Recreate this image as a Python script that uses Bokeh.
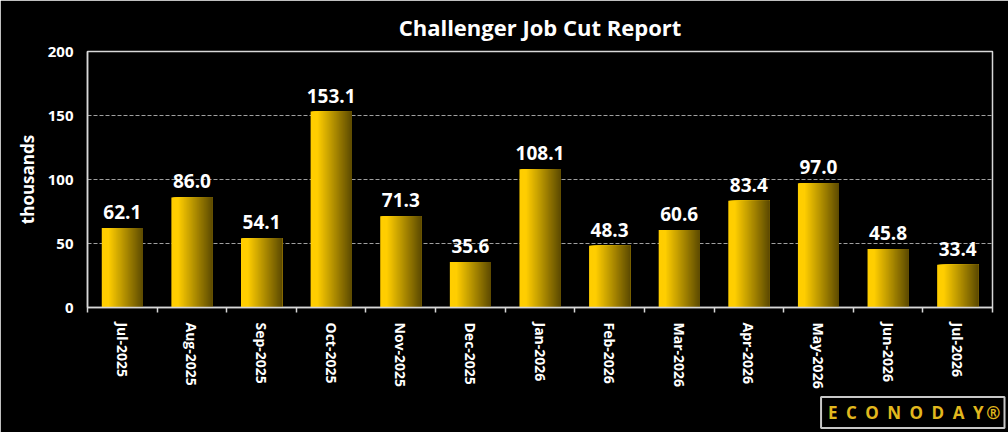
from bokeh.plotting import figure
from bokeh.models import Range1d, FixedTicker, Title, ColumnDataSource
from bokeh.core.properties import value
from bokeh.embed import file_html
from bokeh.resources import INLINE

months = ["Jul-2025", "Aug-2025", "Sep-2025", "Oct-2025", "Nov-2025", "Dec-2025",
          "Jan-2026", "Feb-2026", "Mar-2026", "Apr-2026", "May-2026", "Jun-2026", "Jul-2026"]
job_cuts = [62.1, 86.0, 54.1, 153.1, 71.3, 35.6, 108.1, 48.3, 60.6, 83.4, 97.0, 45.8, 33.4]
y_ticks = [0, 50, 100, 150, 200]

FONT = "Open Sans"
W, H = 1008, 432
p = figure(width=W, height=H, output_backend="svg", toolbar_location=None,
           x_range=Range1d(-0.5, len(months) - 0.5), y_range=Range1d(0, 200),
           min_border_left=87, min_border_right=16, min_border_top=50, min_border_bottom=125,
           background_fill_color="black", border_fill_color="black")

p.title.text = "Challenger Job Cut Report"
p.title.align = "center"
p.title.text_color = "white"
p.title.text_font = FONT
p.title.text_font_size = "22px"
p.title.text_font_style = "bold"
p.title.standoff = 19

p.outline_line_color = "#d8d8d8"
p.outline_line_width = 1.5

# gradient bars via overlapping quads (each covers from its start to bar's right edge)
bar_w = 0.59
N = 40
bright = (255, 206, 0)
dark = (90, 72, 0)
ls, rs, tops, cols = [], [], [], []
for i, v in enumerate(job_cuts):
    for k in range(N):
        t = k / N
        u = max(0.0, (t - 0.15) / 0.85)
        c = tuple(int(round(bright[j] + (dark[j] - bright[j]) * u)) for j in range(3))
        ls.append(i - bar_w / 2 + t * bar_w)
        rs.append(i + bar_w / 2)
        tops.append(v)
        cols.append("#%02x%02x%02x" % c)
src = ColumnDataSource(dict(left=ls, right=rs, top=tops, color=cols))
p.quad(left="left", right="right", top="top", bottom=0, fill_color="color",
       line_color=None, source=src)

lab = ColumnDataSource(dict(x=list(range(len(months))), y=job_cuts,
                            t=["%.1f" % v for v in job_cuts]))
p.text(x="x", y="y", text="t", source=lab, text_align="center", text_baseline="alphabetic",
       y_offset=-16, text_color="white", text_font=value(FONT), text_font_style="bold",
       text_font_size="19px")

# axes
p.xgrid.visible = False
p.ygrid.ticker = FixedTicker(ticks=[50, 100, 150])
p.ygrid.grid_line_color = "#a0a0a0"
p.ygrid.grid_line_dash = "4 2"
p.ygrid.grid_line_width = 1

xa = p.xaxis[0]
xa.ticker = FixedTicker(ticks=list(range(len(months))),
                        minor_ticks=[i - 0.5 for i in range(len(months) + 1)])
xa.major_label_overrides = {i: m for i, m in enumerate(months)}
xa.major_label_orientation = "vertical"
xa.major_tick_line_color = None
xa.major_tick_out = 0
xa.major_tick_in = 0
xa.minor_tick_line_color = "#d8d8d8"
xa.minor_tick_out = 5
xa.minor_tick_in = 0
xa.minor_tick_line_width = 1.5
xa.major_label_standoff = 10
xa.axis_line_color = "#d8d8d8"
xa.axis_line_width = 1.5
xa.major_label_text_color = "white"
xa.major_label_text_font = FONT
xa.major_label_text_font_style = "bold"
xa.major_label_text_font_size = "14px"

ya = p.yaxis[0]
ya.ticker = FixedTicker(ticks=y_ticks)
ya.major_tick_line_color = None
ya.major_tick_out = 0
ya.major_tick_in = 0
ya.minor_tick_line_color = None
ya.major_label_standoff = 14
ya.axis_line_color = "#d8d8d8"
ya.axis_line_width = 1.5
ya.major_label_text_color = "white"
ya.major_label_text_font = FONT
ya.major_label_text_font_style = "bold"
ya.major_label_text_font_size = "15px"
ya.axis_label = "thousands"
ya.axis_label_text_color = "white"
ya.axis_label_text_font = FONT
ya.axis_label_text_font_style = "bold"
ya.axis_label_text_font_size = "17px"
ya.axis_label_standoff = 6

# logo as a boxed title below the x axis
logo = Title(text="\u2009E\u2002C\u2002O\u2002N\u2002O\u2002D\u2002A\u2002Y\u2009\u00ae",
             align="right", offset=-12, standoff=7,
             text_color="#e2b81e", text_font=FONT, text_font_style="bold",
             text_font_size="17px", border_line_color="#c8c8c8", border_line_width=2,
             background_fill_color="black", padding=4)
p.add_layout(logo, "below")

html = file_html(p, INLINE)
html = html.replace("<body>", '<body style="margin:0;background-color:#000000;">', 1)
open("out.html", "w").write(html)
